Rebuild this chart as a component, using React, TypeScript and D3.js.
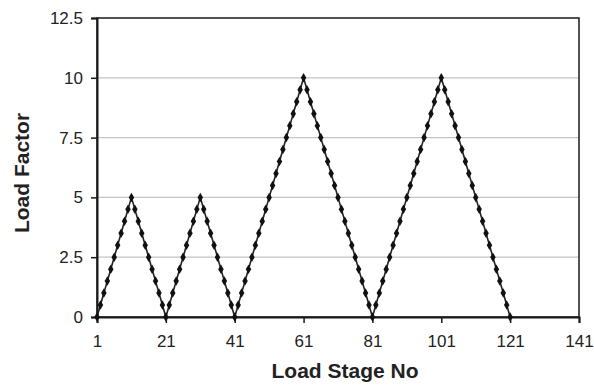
import React, { useEffect, useRef } from "react";
import * as d3 from "d3";

// load factor at each load stage (stage 1 .. 121)
const loadFactor: number[] = [
  0, 0.5, 1, 1.5, 2, 2.5, 3, 3.5, 4, 4.5, 5,
  4.5, 4, 3.5, 3, 2.5, 2, 1.5, 1, 0.5, 0,
  0.5, 1, 1.5, 2, 2.5, 3, 3.5, 4, 4.5, 5,
  4.5, 4, 3.5, 3, 2.5, 2, 1.5, 1, 0.5, 0,
  0.5, 1, 1.5, 2, 2.5, 3, 3.5, 4, 4.5, 5, 5.5, 6, 6.5, 7, 7.5, 8, 8.5, 9, 9.5, 10,
  9.5, 9, 8.5, 8, 7.5, 7, 6.5, 6, 5.5, 5, 4.5, 4, 3.5, 3, 2.5, 2, 1.5, 1, 0.5, 0,
  0.5, 1, 1.5, 2, 2.5, 3, 3.5, 4, 4.5, 5, 5.5, 6, 6.5, 7, 7.5, 8, 8.5, 9, 9.5, 10,
  9.5, 9, 8.5, 8, 7.5, 7, 6.5, 6, 5.5, 5, 4.5, 4, 3.5, 3, 2.5, 2, 1.5, 1, 0.5, 0,
];
const xTicks = [1, 21, 41, 61, 81, 101, 121, 141];
const yTicks = [0, 2.5, 5, 7.5, 10, 12.5];

const W = 594;
const H = 385;
const FONT = "'Liberation Sans', Arial, sans-serif";

const App = () => {
  const svgRef = useRef<SVGSVGElement>(null);

  useEffect(() => {
    const svg = d3.select(svgRef.current);
    svg.selectAll("*").remove();

    const left = 97, right = 579, top = 18, bottom = 317;
    const x = d3.scaleLinear().domain([1, 141]).range([left, right]);
    const y = d3.scaleLinear().domain([0, 12.5]).range([bottom, top]);

    // gridlines
    svg
      .append("g")
      .selectAll("line")
      .data(yTicks.filter((t) => t > 0 && t < 12.5))
      .enter()
      .append("line")
      .attr("x1", left)
      .attr("x2", right)
      .attr("y1", (d) => y(d))
      .attr("y2", (d) => y(d))
      .attr("stroke", "#c4c4c4")
      .attr("stroke-width", 1.2);

    // frame
    svg
      .append("rect")
      .attr("x", left)
      .attr("y", top)
      .attr("width", right - left)
      .attr("height", bottom - top)
      .attr("fill", "none")
      .attr("stroke", "#1a1a1a")
      .attr("stroke-width", 1.5);

    const yAxis = svg
      .append("g")
      .attr("transform", `translate(${left},0)`)
      .call(d3.axisLeft(y).tickValues(yTicks).tickSize(6).tickPadding(8).tickFormat((d) => String(d)));
    yAxis.select(".domain").attr("stroke", "#1a1a1a").attr("stroke-width", 2);
    yAxis.selectAll(".tick line").attr("stroke", "#1a1a1a").attr("stroke-width", 1.5);
    yAxis.selectAll("text").attr("font-family", FONT).attr("font-size", 17).attr("fill", "#222");

    const xAxis = svg
      .append("g")
      .attr("transform", `translate(0,${bottom})`)
      .call(d3.axisBottom(x).tickValues(xTicks).tickSize(6).tickPadding(12).tickFormat((d) => String(d)));
    xAxis.select(".domain").attr("stroke", "#1a1a1a").attr("stroke-width", 2);
    xAxis.selectAll(".tick line").attr("stroke", "#1a1a1a").attr("stroke-width", 1.5);
    xAxis.selectAll("text").attr("font-family", FONT).attr("font-size", 17).attr("fill", "#222");

    const line = d3
      .line<number>()
      .x((_, i) => x(i + 1))
      .y((d) => y(d));

    svg
      .append("path")
      .datum(loadFactor)
      .attr("d", line)
      .attr("fill", "none")
      .attr("stroke", "#222")
      .attr("stroke-width", 1.6);

    const diamond = d3.symbol().type(d3.symbolDiamond).size(26);
    svg
      .append("g")
      .selectAll("path")
      .data(loadFactor)
      .enter()
      .append("path")
      .attr("d", diamond)
      .attr("transform", (d, i) => `translate(${x(i + 1)},${y(d)})`)
      .attr("fill", "#111");

    svg
      .append("text")
      .attr("x", 345)
      .attr("y", 378)
      .attr("text-anchor", "middle")
      .attr("font-family", FONT)
      .attr("font-weight", "bold")
      .attr("font-size", 21)
      .attr("fill", "#222")
      .text("Load Stage No");

    svg
      .append("text")
      .attr("transform", "translate(29,173) rotate(-90)")
      .attr("text-anchor", "middle")
      .attr("font-family", FONT)
      .attr("font-weight", "bold")
      .attr("font-size", 21)
      .attr("fill", "#222")
      .text("Load Factor");
  }, []);

  return (
    <svg
      ref={svgRef}
      width={W}
      height={H}
      style={{ position: "absolute", left: 0, top: 0, background: "#fff" }}
    />
  );
};

export default App;
